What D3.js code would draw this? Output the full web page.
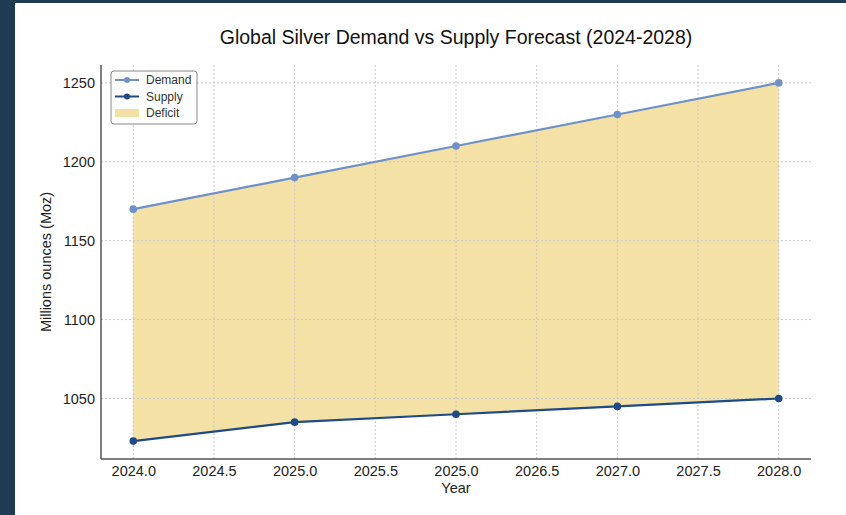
<!DOCTYPE html>
<html><head><meta charset="utf-8">
<script src="https://cdn.jsdelivr.net/npm/d3@7"></script>
<style>
html,body{margin:0;padding:0;background:#1f3b54;}
svg{display:block;}
text{font-family:"Liberation Sans",Arial,sans-serif;}
</style></head>
<body><svg id="c" width="846" height="515"></svg>
<script>
const years = [2024, 2025, 2026, 2027, 2028];
const demand = [1170, 1190, 1210, 1230, 1250];
const supply = [1023, 1035, 1040, 1045, 1050];
const xTickValues = [2024.0, 2024.5, 2025.0, 2025.5, 2026.0, 2026.5, 2027.0, 2027.5, 2028.0];
const xTickLabels = ["2024.0", "2024.5", "2025.0", "2025.5", "2025.0", "2026.5", "2027.0", "2027.5", "2028.0"];
const yTickValues = [1050, 1100, 1150, 1200, 1250];
const seriesNames = ["Demand", "Supply", "Deficit"];

const svg = d3.select("#c");
svg.append("rect").attr("x",0).attr("y",0).attr("width",846).attr("height",515).attr("fill","#1f3b54");
svg.append("rect").attr("x",15).attr("y",3).attr("width",831).attr("height",512).attr("fill","#ffffff");

const L=101, R=811, T=65, B=459;
const x = d3.scaleLinear().domain([2023.8, 2028.2]).range([L, R]);
const yMin = d3.min(supply), yMax = d3.max(demand), pad = (yMax-yMin)*0.05;
const y = d3.scaleLinear().domain([yMin-pad, yMax+pad]).range([B, T]);

const data = years.map((yr,i)=>({x:yr, d:demand[i], s:supply[i]}));

// fill
svg.append("path").datum(data)
  .attr("d", d3.area().x(d=>x(d.x)).y0(d=>y(d.s)).y1(d=>y(d.d)))
  .attr("fill","#f3e1a6");

// grid
const g = svg.append("g");
g.selectAll(".vx").data(xTickValues).join("line")
  .attr("x1",d=>x(d)).attr("x2",d=>x(d)).attr("y1",T).attr("y2",B)
  .attr("stroke","#c8c8c8").attr("stroke-width",1).attr("stroke-dasharray","2,2");
g.selectAll(".hy").data(yTickValues).join("line")
  .attr("x1",L).attr("x2",R).attr("y1",d=>y(d)).attr("y2",d=>y(d))
  .attr("stroke","#c8c8c8").attr("stroke-width",1).attr("stroke-dasharray","2,2");

// axes
const xAxis = d3.axisBottom(x).tickValues(xTickValues).tickFormat((d,i)=>xTickLabels[i]).tickSize(0).tickPadding(7);
const yAxis = d3.axisLeft(y).tickValues(yTickValues).tickFormat(d3.format("d")).tickSize(0).tickPadding(6);
const gx = svg.append("g").attr("transform",`translate(0,${B})`).call(xAxis);
const gy = svg.append("g").attr("transform",`translate(${L},0)`).call(yAxis);
[gx,gy].forEach(a=>{
  a.select(".domain").attr("stroke","#555").attr("stroke-width",1.5);
  a.selectAll("text").attr("font-size","14.5px").attr("fill","#222").attr("font-family","Liberation Sans, Arial, sans-serif");
});
gx.select(".domain").attr("d",`M${L},0H${R}`);
gy.select(".domain").attr("d",`M0,${B}V${T}`);

// lines
const line = k => d3.line().x(d=>x(d.x)).y(d=>y(d[k]));
const cD="#6f91c8", cS="#1f4a86";
svg.append("path").datum(data).attr("d",line("d")).attr("fill","none").attr("stroke",cD).attr("stroke-width",2.2);
svg.append("path").datum(data).attr("d",line("s")).attr("fill","none").attr("stroke",cS).attr("stroke-width",2.2);
svg.selectAll(".md").data(data).join("circle").attr("cx",d=>x(d.x)).attr("cy",d=>y(d.d)).attr("r",3.8).attr("fill",cD);
svg.selectAll(".ms").data(data).join("circle").attr("cx",d=>x(d.x)).attr("cy",d=>y(d.s)).attr("r",3.8).attr("fill",cS);

// title & labels
svg.append("text").attr("x",(L+R)/2).attr("y",44).attr("text-anchor","middle")
  .attr("font-size","19.5px").attr("fill","#111").text("Global Silver Demand vs Supply Forecast (2024-2028)");
svg.append("text").attr("x",(L+R)/2).attr("y",493).attr("text-anchor","middle")
  .attr("font-size","14.5px").attr("fill","#222").text("Year");
svg.append("text").attr("transform",`translate(51,${(T+B)/2}) rotate(-90)`).attr("text-anchor","middle")
  .attr("font-size","14.5px").attr("fill","#222").text("Millions ounces (Moz)");

// legend
const lg = svg.append("g").attr("transform","translate(111,71)");
lg.append("rect").attr("x",0).attr("y",0).attr("width",86).attr("height",53).attr("rx",3)
  .attr("fill","#fff").attr("stroke","#888").attr("stroke-width",1);
const cols=[cD,cS];
seriesNames.forEach((n,i)=>{
  const yy = 9 + i*16.5;
  if(i<2){
    lg.append("line").attr("x1",4).attr("x2",28).attr("y1",yy).attr("y2",yy).attr("stroke",cols[i]).attr("stroke-width",2);
    lg.append("circle").attr("cx",16).attr("cy",yy).attr("r",3).attr("fill",cols[i]);
  } else {
    lg.append("rect").attr("x",4).attr("y",yy-4).attr("width",24).attr("height",8).attr("fill","#f3e1a6");
  }
  lg.append("text").attr("x",35).attr("y",yy+4).attr("font-size","12px").attr("fill","#333").text(n);
});
</script></body></html>
